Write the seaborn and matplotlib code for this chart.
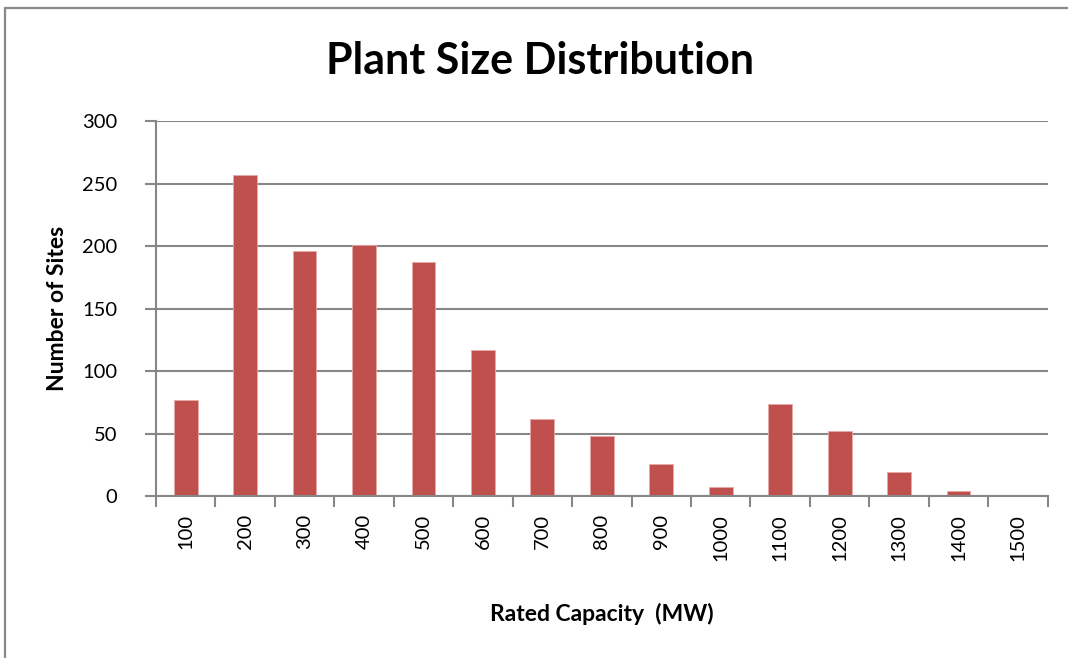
import numpy as np
import pandas as pd
import seaborn as sns
import matplotlib
matplotlib.use('Agg')
from matplotlib import pyplot as plt
from matplotlib.lines import Line2D

# rated capacity bins (MW) and number of sites per bin
capacity = ['100', '200', '300', '400', '500', '600', '700', '800',
            '900', '1000', '1100', '1200', '1300', '1400', '1500']
sites = [77, 257, 196, 201, 187, 117, 62, 48, 26, 7, 74, 52, 19, 4, 1]

df = pd.DataFrame({'capacity': capacity, 'sites': sites})

sns.set_style('white')
plt.rcParams['font.family'] = ['Lato', 'DejaVu Sans']
plt.rcParams['text.color'] = 'black'
plt.rcParams['axes.labelcolor'] = 'black'

fig = plt.figure(figsize=(10.68, 6.58), dpi=100)
ax = fig.add_axes([0.146, 0.246, 0.835, 0.570])

grey = '#878787'
sns.barplot(x='capacity', y='sites', data=df, order=capacity,
            color='#C0504D', width=0.4, saturation=1, ax=ax,
            edgecolor='#E8A8A6', linewidth=0.6)

ax.set_ylim(0, 300)
ax.set_xlim(-0.5, len(capacity) - 0.5)
ax.set_yticks(np.arange(0, 301, 50))
ax.yaxis.grid(True, color=grey, linewidth=1.5)
ax.set_axisbelow(True)

# labels in bin centres, tick marks on bin boundaries
ax.set_xticks(np.arange(len(capacity)))
ax.set_xticklabels(capacity, rotation=90, fontsize=14.5)
ax.set_xticks(np.arange(-0.5, len(capacity)), minor=True)
ax.tick_params(axis='x', which='major', length=0, pad=13, labelcolor='black')
ax.tick_params(axis='x', which='minor', length=8, width=1.5, color=grey, direction='out')
ax.tick_params(axis='y', length=8, width=1.5, color=grey, direction='out',
               labelsize=14.5, pad=20, labelcolor='black')
ax.tick_params(bottom=True, left=True, which='both')

for side in ['top', 'right']:
    ax.spines[side].set_visible(False)
for side in ['left', 'bottom']:
    ax.spines[side].set_color(grey)
    ax.spines[side].set_linewidth(1.5)

ax.set_xlabel('Rated Capacity  (MW)', fontsize=16.5, fontweight='bold', labelpad=30)
ax.set_ylabel('Number of Sites', fontsize=16.5, fontweight='bold', labelpad=10)
fig.text(0.506, 0.908, 'Plant Size Distribution', ha='center', va='center',
         fontsize=31, fontweight='bold')

# chart frame (only left and top edges show in the crop)
W, H = 1068, 658
fig.add_artist(Line2D([5.5 / W, 5.5 / W], [0, 1 - 7.5 / H], transform=fig.transFigure,
                      color='#888888', linewidth=1.6))
fig.add_artist(Line2D([5.5 / W, 1], [1 - 7.5 / H, 1 - 7.5 / H], transform=fig.transFigure,
                      color='#888888', linewidth=1.6))

fig.savefig('out.png', dpi=100)
